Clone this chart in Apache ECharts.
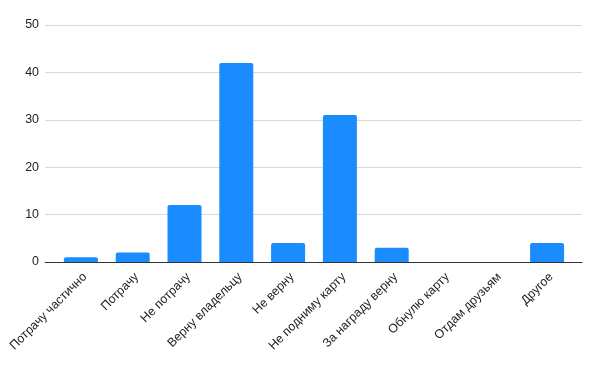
<!DOCTYPE html>
<html><head><meta charset="utf-8">
<script src="https://cdn.jsdelivr.net/npm/echarts@6/dist/echarts.min.js"></script>
<style>html,body{margin:0;padding:0;background:#fff}#c{width:600px;height:371px}</style>
</head><body><div id="c"></div>
<script>
const categories = ['Потрачу частично','Потрачу','Не потрачу','Верну владельцу','Не верну','Не подниму карту','За награду верну','Обнулю карту','Отдам друзьям','Другое'];
const values = [1, 2, 12, 42, 4, 31, 3, 0, 0, 4];
const yMin = 0, yMax = 50, yStep = 10;

const font = 'Arial, Liberation Sans, sans-serif';
const chart = echarts.init(document.getElementById('c'));
chart.setOption({
  animation: false,
  grid: [
    {left: 45, right: 18, top: 25, bottom: 109},
    {left: 55, right: 27, top: 25, bottom: 109},
    {left: 59, right: 23, top: 25, bottom: 109}
  ],
  xAxis: [
    {gridIndex: 0, type: 'category', data: categories, axisLabel: {show: false}, axisTick: {show: false},
     axisLine: {lineStyle: {color: '#333', width: 1}}},
    {gridIndex: 1, type: 'category', data: categories, axisTick: {show: false}, axisLine: {show: false},
     axisLabel: {show: false}},
    {gridIndex: 2, type: 'category', data: categories, axisTick: {show: false}, axisLine: {show: false},
     axisLabel: {rotate: 45, interval: 0, color: '#222', fontSize: 12.4, fontFamily: font, margin: 13}}
  ],
  yAxis: [
    {gridIndex: 0, type: 'value', min: yMin, max: yMax, interval: yStep,
     axisLine: {show: false}, axisTick: {show: false},
     axisLabel: {color: '#222', fontSize: 12.4, fontFamily: font, margin: 6},
     splitLine: {lineStyle: {color: '#d9d9d9', width: 1}}},
    {gridIndex: 1, type: 'value', min: yMin, max: yMax, interval: yStep, show: false, splitLine: {show: false}},
    {gridIndex: 2, type: 'value', min: yMin, max: yMax, interval: yStep, show: false, splitLine: {show: false}}
  ],
  series: [{
    type: 'bar', xAxisIndex: 1, yAxisIndex: 1, data: values, barWidth: 34,
    itemStyle: {color: '#1a8cff', borderRadius: [2, 2, 0, 0]}, z: 3
  }]
});
</script></body></html>
